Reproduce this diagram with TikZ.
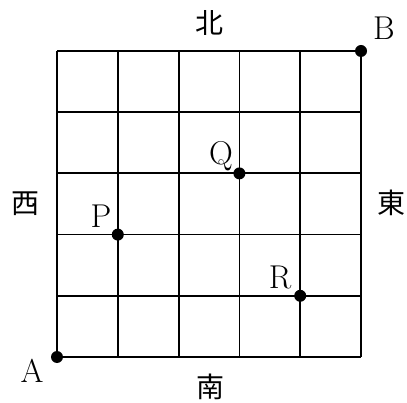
\documentclass[tikz,border=0pt]{standalone}
\usepackage{fontspec}
\newfontfamily\cjk{Noto Sans CJK JP}
\begin{document}
\begin{tikzpicture}[x=1pt,y=-1pt,
  gridline/.style={line width=1.8pt},
  dot/.style={circle,fill=black,inner sep=0pt,minimum size=12pt},
  lbl/.style={inner sep=0pt,font=\fontsize{33}{35}\selectfont},
  dirlbl/.style={inner sep=0pt,font=\cjk\fontsize{28}{30}\selectfont}]
\useasboundingbox (0,0) rectangle (407,403);
\foreach \i in {0,...,5} {
  \draw[gridline] ({57+60.8*\i},51) -- ({57+60.8*\i},357);
  \draw[gridline] (57,{357-61.2*\i}) -- (361,{357-61.2*\i});
}
\node[dot] (A) at (57,357) {};
\node[dot] (B) at (361,51) {};
\node[dot] (P) at (117.8,234.6) {};
\node[dot] (Q) at (239.4,173.4) {};
\node[dot] (R) at (300.2,295.8) {};
\node[lbl] (tA) at (32,371) {A};
\node[lbl] (tB) at (384,28) {B};
\node[lbl] (tP) at (101,216) {P};
\node[lbl] (tQ) at (221,156) {Q};
\node[lbl] (tR) at (280,277) {R};
\node[dirlbl] (n) at (209,23) {北};
\node[dirlbl] (s) at (210,387) {南};
\node[dirlbl] (w) at (26,204) {西};
\node[dirlbl] (e) at (391,203) {東};
\end{tikzpicture}
\end{document}
